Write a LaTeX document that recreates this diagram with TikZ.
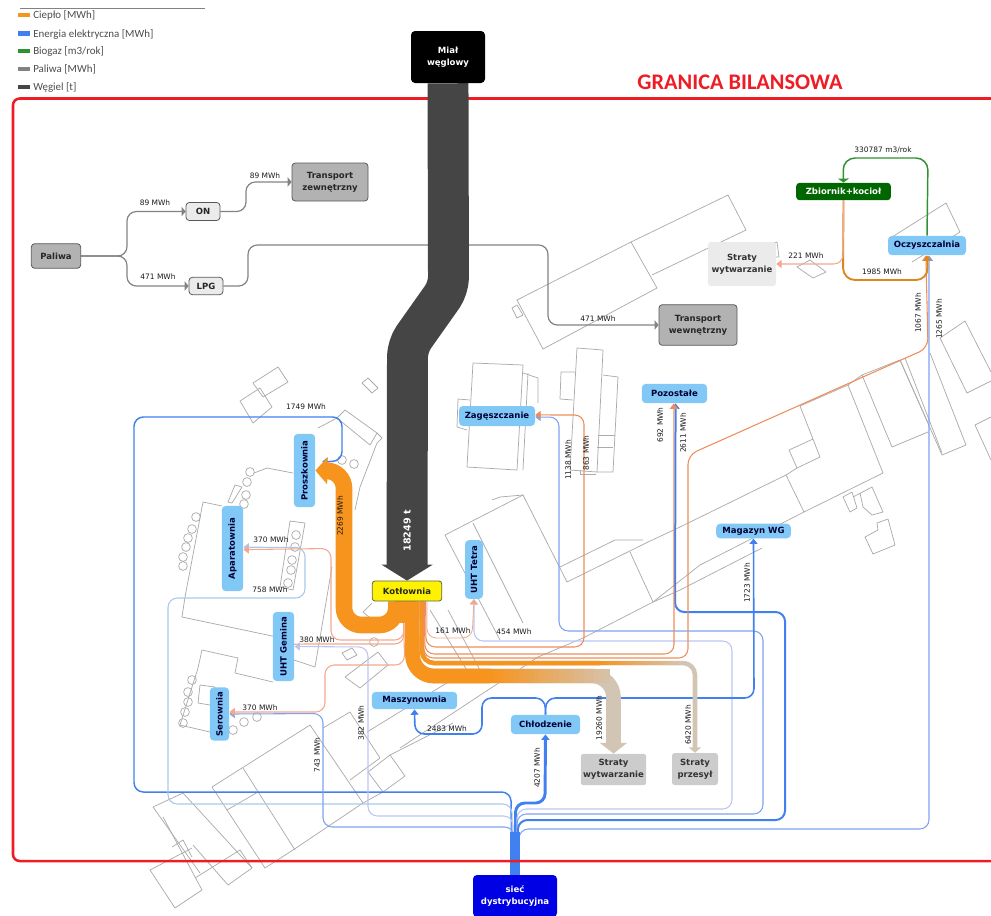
\documentclass[tikz,border=0pt]{standalone}
\usepackage{fontspec}
\setmainfont{DejaVu Sans}
\newfontfamily\calibrifont{Carlito}
\usetikzlibrary{arrows.meta}
\pgfdeclarelayer{background}
\pgfdeclarelayer{flows}
\pgfsetlayers{background,flows,main}
\definecolor{cieplo}{HTML}{F7941E}
\definecolor{cieplothin}{HTML}{EE8D5C}
\definecolor{cieplopale}{HTML}{F5A78E}
\definecolor{beige}{HTML}{D3C5B4}
\definecolor{prad}{HTML}{4080F0}
\definecolor{pradmid}{HTML}{7DA2EE}
\definecolor{pradpale}{HTML}{A9C8EA}
\definecolor{pradlilac}{HTML}{BCC6F2}
\definecolor{biogaz}{HTML}{2F9130}
\definecolor{paliwo}{HTML}{828282}
\definecolor{wegiel}{HTML}{454545}
\definecolor{oddzial}{HTML}{82C8F7}
\definecolor{ramka}{HTML}{EE1C25}
\definecolor{budynek}{HTML}{ABABAB}

\begin{document}
\begin{tikzpicture}[
    x=0.75pt, y=-0.75pt,
    every node/.style={font=\fontsize{6.4}{9}\selectfont\bfseries, inner sep=0pt, align=center},
    oddz/.style={rectangle, rounded corners=3pt, fill=oddzial, text=black!80!blue},
    paliwobox/.style={rectangle, rounded corners=2.5pt, draw=black!65, semithick, fill=black!30, text=black!85},
    paliwosmall/.style={paliwobox, fill=black!8},
    strata/.style={rectangle, rounded corners=2pt, fill=black!20, text=black!80},
    etyk/.style={font=\fontsize{5.6}{6}\selectfont, text=black!90},
    etykv/.style={etyk, rotate=90},
    legenda/.style={font=\calibrifont\fontsize{8.2}{10}\selectfont, text=black!70, anchor=west},
    kreska/.style={line width=3.2pt},
    bud/.style={draw=budynek, line width=0.55pt, line join=round},
    flow/.style={rounded corners=7pt, line join=round},
    cieplotip/.style={flow, -{Triangle[length=4pt, width=6pt]}},
    linia/.style={cieplotip, cieplothin, line width=0.8pt},
    liniapale/.style={cieplotip, cieplopale, line width=0.8pt},
    pradl/.style={cieplotip, prad, line width=1.2pt},
    paliwol/.style={flow, paliwo, line width=0.9pt, -{Triangle[length=3pt, width=7pt]}}
]
\useasboundingbox (0,0) rectangle (991,915);

% buildings
\begin{pgfonlayer}{background}
\draw[bud] (652,275) -- (746,230) -- (728,195) -- (631,242) -- (517,300) -- (543,349) -- (657,288) -- (631,242);
\draw[bud] (512,308) -- (517,305) -- (523,315) -- (517,318) -- cycle;
\draw[bud] (762,248) -- (777,242) -- (779,257) -- (768,257);
\draw[bud] (797,267) -- (810,260) -- (826,272) -- (813,278) -- cycle;
\draw[bud] (892,237) -- (946,203) -- (960,232) -- (912,262);
\draw[bud] (800,406) -- (848,385) -- (883,473) -- (804,512) -- (700,565) -- (653,602) -- (583,638) -- (538,657) -- (400,748);
\draw[bud] (800,406) -- (820,457) -- (797,468) -- (789,450) -- (813,439);
\draw[bud] (797,468) -- (786,475) -- (680,527) -- (648,542) -- (567,582) -- (523,495) -- (445,535) -- (500,640);
\draw[bud] (786,475) -- (804,512);
\draw[bud] (560,567) -- (615,540) -- (643,540);
\draw[bud] (630,552) -- (653,602);
\draw[bud] (473,523) -- (523,623);
\draw[bud] (492,500) -- (500,497) -- (523,495);
\draw[bud] (762,548) -- (680,590) -- (653,602);
\draw[bud] (848,385) -- (862,375) -- (892,447) -- (928,432);
\draw[bud] (862,375) -- (900,360) -- (928,423);
\draw[bud] (905,358) -- (942,453);
\draw[bud] (930,353) -- (966,445) -- (942,455) -- (900,360);
\draw[bud] (940,338) -- (965,321) -- (991,372);
\draw[bud] (940,338) -- (967,393) -- (991,381);
\draw[bud] (975,425) -- (991,417);
\draw[bud] (975,425) -- (991,460);
\draw[bud] (843,497) -- (852,492) -- (857,508) -- (850,512) -- cycle;
\draw[bud] (853,497) -- (872,487) -- (883,512) -- (872,515) -- (863,507) -- (860,493);
\draw[bud] (865,537) -- (878,530) -- (877,523) -- (888,519) -- (895,545) -- (873,554) -- cycle;
\draw[bud] (473,363) -- (523,365) -- (517,470) -- (467,467) -- cycle;
\draw[bud] (523,373) -- (538,378) -- (538,403);
\draw[bud] (528,373) -- (523,470);
\draw[bud] (470,400) -- (458,399) -- (457,427) -- (467,430);
\draw[bud] (577,348) -- (603,350) -- (597,472) -- (570,470) -- cycle;
\draw[bud] (575,372) -- (561,372) -- (560,399) -- (573,400);
\draw[bud] (603,375) -- (618,377) -- (613,472) -- (597,472);
\draw[bud] (598,435) -- (615,435);
\draw[bud] (597,447) -- (613,447);
\draw[bud] (580,470) -- (580,474) -- (596,474);
\draw[bud] (240,401) -- (260,388) -- (272,407) -- (253,423) -- cycle;
\draw[bud] (253,383) -- (278,367) -- (288,382) -- (263,397) -- cycle;
\draw[bud] (362,383) -- (368,378) -- (378,388) -- (372,393) -- cycle;
\draw[bud] (318,428) -- (337,418) -- (345,410) -- (377,433) -- (382,438) -- (377,443) -- (360,487) -- (355,510);
\draw[bud] (337,418) -- (370,445) -- (377,433);
\draw[bud] (254,473) -- (267,468) -- (293,473);
\draw[bud] (222,506) -- (203,502) -- (185,597) -- (182,617) -- (277,637);
\draw[bud] (235,485) -- (242,487) -- (232,503) -- (228,502) -- cycle;
\draw[bud] (290,521) -- (305,523) -- (293,590) -- (280,587) -- cycle;
\draw[bud] (332,567) -- (315,667) -- (294,660);
\draw[bud] (202,650) -- (238,658) -- (235,673) -- (273,682);
\draw[bud] (202,650) -- (198,668) -- (180,725) -- (210,732);
\draw[bud] (200,685) -- (215,687) -- (210,705) -- (198,703) -- cycle;
\foreach \cx/\cy in {196/517,192/529,188/538,186/547,183/557,183/566,250/472,247/482,246/495,244/504,296/535,295/547,292/560,291/570,288/583,342/460,354/464,192/680,188/692,188/702,185/712,183/723,233/730,244/722,257/717,374/642}
    \draw[bud] (\cx,\cy) circle (3.3pt);
\draw[bud] (345,677) -- (378,652) -- (388,665) -- (360,688) -- cycle;
\draw[bud] (342,653) -- (352,648) -- (357,655) -- (347,660) -- cycle;
\draw[bud] (372,603) -- (363,612) -- (375,622);
\draw[bud] (387,557) -- (410,573);
\draw[bud] (430,610) -- (468,672);
\draw[bud] (448,610) -- (480,670);
\draw[bud] (463,673) -- (367,732);
\draw[bud] (453,723) -- (390,755);
\draw[bud] (323,728) -- (350,712) -- (380,758) -- (350,780);
\draw[bud] (390,755) -- (405,776) -- (383,792) -- (363,803) -- (293,850) -- (265,868) -- (227,810) -- (212,787) -- (310,725) -- (363,803);
\draw[bud] (368,772) -- (383,792);
\draw[bud] (368,772) -- (390,755);
\draw[bud] (243,768) -- (295,850);
\draw[bud] (227,810) -- (258,792);
\draw[bud] (183,793) -- (252,868) -- (228,885) -- (193,845);
\draw[bud] (153,807) -- (200,873);
\draw[bud] (153,807) -- (183,793);
\draw[bud] (163,817) -- (202,890) -- (175,908) -- (150,870) -- (192,848);
\draw[bud] (195,878) -- (240,850) -- (252,868);
\draw[bud] (172,847) -- (183,840) -- (192,857);
\end{pgfonlayer}

% legend
\draw[paliwo, line width=0.7pt] (20,8) -- (205,8);
\coordinate (leg1) at (18,15);
\coordinate (leg2) at (18,33.5);
\coordinate (leg3) at (18,51);
\coordinate (leg4) at (18,69);
\coordinate (leg5) at (18,87);
\draw[kreska, cieplo] (leg1) -- ++(12,0);
\draw[kreska, prad] (leg2) -- ++(12,0);
\draw[kreska, biogaz] (leg3) -- ++(12,0);
\draw[kreska, paliwo] (leg4) -- ++(12,0);
\draw[kreska, wegiel] (leg5) -- ++(12,0);
\node[legenda] (legcieplo) at (33,15.5) {Ciepło [MWh]};
\node[legenda] (legprad) at (33,34) {Energia elektryczna [MWh]};
\node[legenda] (legbiogaz) at (33,51.5) {Biogaz [m3/rok]};
\node[legenda] (legpaliwa) at (33,69.5) {Paliwa [MWh]};
\node[legenda] (legwegiel) at (33,87.5) {Węgiel [t]};
\node[font=\calibrifont\fontsize{16.7}{18}\selectfont\bfseries, text=ramka] (granica) at (740,82) {GRANICA BILANSOWA};

% nodes
\node[rectangle, rounded corners=3pt, fill=black, text=white, minimum width=55.5pt, minimum height=39pt] (mial) at (448,57) {Miał\\węglowy};
\node[rectangle, rounded corners=2pt, draw=black!70!yellow, fill=yellow, semithick, text=black!85, minimum width=52pt, minimum height=15pt] (kotlownia) at (407,591) {Kotłownia};
\node[rectangle, rounded corners=3pt, fill=blue!90!black, text=white, minimum width=63pt, minimum height=31.5pt] (siec) at (515,896) {sieć\\dystrybucyjna};
\node[paliwobox, minimum width=37pt, minimum height=18.5pt] (paliwa) at (56,256) {Paliwa};
\node[paliwosmall, minimum width=25.5pt, minimum height=13.5pt] (on) at (203,211.5) {ON};
\node[paliwosmall, minimum width=25.5pt, minimum height=13pt] (lpg) at (206,286) {LPG};
\node[paliwobox, minimum width=57pt, minimum height=28.5pt] (tzew) at (330,182) {Transport\\zewnętrzny};
\node[paliwobox, minimum width=58.5pt, minimum height=30.5pt] (twew) at (698,325) {Transport\\wewnętrzny};
\node[strata, fill=black!8, minimum width=51pt, minimum height=33pt] (stratytop) at (742,264) {Straty\\wytwarzanie};
\node[rectangle, rounded corners=2.5pt, fill=green!40!black, text=white, minimum width=71pt, minimum height=13pt] (zbiornik) at (843.5,191.5) {Zbiornik+kocioł};
\node[oddz, minimum width=58.5pt, minimum height=14.5pt] (oczysz) at (927,245.5) {Oczyszczalnia};
\node[oddz, minimum width=49pt, minimum height=14.5pt] (pozostale) at (674.5,393.5) {Pozostałe};
\node[oddz, minimum width=57pt, minimum height=15pt] (zageszcz) at (497,416) {Zagęszczanie};
\node[oddz, minimum width=56pt, minimum height=11pt] (magazyn) at (753.5,531) {Magazyn WG};
\node[oddz, rotate=90, minimum width=44pt, minimum height=13.5pt] (tetra) at (474,569.5) {UHT Tetra};
\node[oddz, rotate=90, minimum width=55pt, minimum height=16pt] (proszk) at (304.5,470.5) {Proszkownia};
\node[oddz, rotate=90, minimum width=64pt, minimum height=16pt] (aparat) at (232.5,548.5) {Aparatownia};
\node[oddz, rotate=90, minimum width=52pt, minimum height=16pt] (gemina) at (283.5,646.5) {UHT Gemina};
\node[oddz, rotate=90, minimum width=40pt, minimum height=14.5pt] (serownia) at (219.5,714) {Serownia};
\node[oddz, minimum width=64pt, minimum height=13pt] (maszyn) at (414.5,700.5) {Maszynownia};
\node[oddz, minimum width=52pt, minimum height=14.5pt] (chlodz) at (545.5,724.5) {Chłodzenie};
\node[strata, minimum width=49pt, minimum height=23.5pt] (stratywyt) at (613.5,769.5) {Straty\\wytwarzanie};
\node[strata, minimum width=34.5pt, minimum height=24pt] (stratyprz) at (695,769) {Straty\\przesył};

\begin{pgfonlayer}{flows}
% electricity
\draw[pradl, line width=1.1pt] ([xshift=-2.5pt]siec.north) -- (511,792) -- (134,792) -- (134,417) -- (342,417) -- (342,461) -- ([shift={(5pt,6.5pt)}]proszk.south);
\draw[liniapale, pradpale] ([xshift=-2pt]siec.north) -- (512,804) -- (168,804) -- (168,598) -- (305,598) -- (305,547.5) -- ([yshift=1pt]aparat.south);
\draw[liniapale, pradlilac] ([xshift=-1.5pt]siec.north) -- (513,816) -- (368,816) -- (368,647) -- (gemina.south);
\draw[linia, pradmid] ([xshift=-1pt]siec.north) -- (514,827) -- (323,827) -- (323,713.5) -- (serownia.south);
\draw[pradl, line width=2.2pt] ([xshift=0.5pt]siec.north) -- (515.5,803) -- (545,803) -- (chlodz.south);
\draw[liniapale, pradlilac] ([xshift=1pt]siec.north) -- (517,809) -- (732,809) -- (732,641) -- (474,641) -- (tetra.west);
\draw[linia, pradmid] ([xshift=1.5pt]siec.north) -- (517,814) -- (763,814) -- (763,631) -- (559,631) -- (559,417) -- ([yshift=-0.8pt]zageszcz.east);
\draw[pradl, line width=1.5pt] ([xshift=2pt]siec.north) -- (518,820) -- (785,820) -- (785,612) -- (675,612) -- ([xshift=0.8pt]pozostale.south);
\draw[linia, pradmid] ([xshift=3pt]siec.north) -- (519,829) -- (929,829) -- ([xshift=1.5pt]oczysz.south);
\draw[pradl] (chlodz.north) -- (545,698) -- (482,698) -- (482,734) -- (415,734) -- (maszyn.south);
\draw[pradl] (chlodz.north) -- (546,698) -- (754,698) -- (magazyn.south);
\coordinate (stem) at (515,832);
\draw[prad, line width=7pt] (siec.north) -- (stem);
% boundary
\draw[ramka, line width=1.9pt, rounded corners=5pt] (13,98.5) rectangle (1010,861);
% heat
\draw[liniapale] ([xshift=-3pt]kotlownia.south) -- (404,640) -- (331,640) -- (331,548.5) -- ([yshift=-0.8pt]aparat.south);
\draw[liniapale] ([xshift=-3pt]kotlownia.south) -- (404,644) -- (296,644) -- ([yshift=1.8pt]gemina.south);
\draw[liniapale] ([xshift=-2.5pt]kotlownia.south) -- (404.5,665) -- (325,665) -- (325,712) -- ([yshift=1.5pt]serownia.south);
\draw[cieplo, line width=12.5pt, line join=round, rounded corners=13pt, -{Triangle[length=9pt, width=20pt]}] ([xshift=-8pt]kotlownia.south) -- (396.5,625) -- (344,625) -- (344,471) -- (proszk.south);
\draw[beige, line width=11pt, line join=round, rounded corners=16pt, -{Triangle[length=8pt, width=20pt]}] ([xshift=4pt]kotlownia.south) -- (412.5,676) -- (613.5,676) -- (stratywyt.north);
\draw[cieplo, line width=11pt, line join=round, rounded corners=16pt] ([xshift=4pt]kotlownia.south) -- (412.5,676) -- (490,676);
\foreach \i in {0,...,23}
    \draw[cieplo!\the\numexpr100-4*\i\relax!beige, line width=11pt] ({489+5*\i},676) -- ({495+5*\i},676);
\draw[beige, line width=3.4pt, rounded corners=9pt, -{Triangle[length=4pt, width=9pt]}] ([xshift=11pt]kotlownia.south) -- (422,663) -- (695,663) -- (stratyprz.north);
\draw[cieplo, line width=3.4pt, rounded corners=9pt] ([xshift=11pt]kotlownia.south) -- (422,663) -- (600,663);
\foreach \i in {0,...,15}
    \draw[cieplo!\the\numexpr100-6*\i\relax!beige, line width=3.4pt] ({598+5*\i},663) -- ({604+5*\i},663);
\draw[linia] ([xshift=12pt]kotlownia.south) -- (424,658) -- (688,658) -- (688,455) -- (928,348) -- ([xshift=-0.8pt]oczysz.south);
\draw[linia] ([xshift=13pt]kotlownia.south) -- (425,654) -- (674,654) -- ([xshift=-0.5pt]pozostale.south);
\draw[linia] ([xshift=14pt]kotlownia.south) -- (426,647) -- (584,647) -- (584,415) -- ([yshift=0.8pt]zageszcz.east);
\draw[liniapale, line width=0.6pt] ([xshift=15pt]kotlownia.south) -- (427,638) -- (472,638) -- (tetra.west);
\draw[cieplo, line width=16pt] ([xshift=-1pt]kotlownia.south) -- ++(0,-16pt);
% fuels and biogas
\draw[paliwol] (paliwa.east) -- (127,256) -- (127,211.5) -- (on.west);
\draw[paliwol] (paliwa.east) -- (127,256) -- (127,286) -- (lpg.west);
\draw[paliwol] (on.east) -- (246,211.5) -- (246,182) -- (tzew.west);
\draw[paliwol] (lpg.east) -- (248,286) -- (248,245) -- (548,245) -- (548,325) -- (twew.west);
\draw[biogaz, line width=1.1pt, rounded corners=9pt, -{Triangle[length=3pt, width=8pt]}] (oczysz.north) -- (928,158) -- (843,158) -- (zbiornik.north);
\draw[cieplotip, cieplo!90!black, line width=1.4pt, rounded corners=9pt] (zbiornik.south) -- (843,280) -- (928,280) -- (oczysz.south);
\draw[liniapale] (zbiornik.south) -- (843,264) -- (stratytop.east);
% coal
\draw[wegiel, line width=30.7pt, line join=round, rounded corners=8pt, -{Triangle[length=12pt, width=38pt]}] (mial.south) -- (448.5,288) -- (407.5,346) -- (kotlownia.north);
\end{pgfonlayer}

% labels
\node[etyk] (l89a) at (155,203) {89 MWh};
\node[etyk] (l89b) at (265,176) {89 MWh};
\node[etyk] (l471a) at (158,277) {471 MWh};
\node[etyk] (l471b) at (598,319) {471 MWh};
\node[etyk] (l330) at (883,150) {330787 m3/rok};
\node[etyk] (l221) at (806,256) {221 MWh};
\node[etyk] (l1985) at (882,272) {1985 MWh};
\node[etykv] (l1067) at (918,313) {1067 MWh};
\node[etykv] (l1265) at (939,319) {1265 MWh};
\node[etykv, font=\fontsize{7.2}{9}\selectfont\bfseries, text=white] (l18249) at (407,531) {18249 t};
\node[etykv] (l2269) at (340,516) {2269 MWh};
\node[etyk] (l1749) at (306,407) {1749 MWh};
\node[etyk] (l370a) at (271,540) {370 MWh};
\node[etyk] (l758) at (270,590) {758 MWh};
\node[etyk] (l380) at (317,640) {380 MWh};
\node[etyk] (l370b) at (260,708) {370 MWh};
\node[etykv] (l743) at (317,755) {743 MWh};
\node[etykv] (l382) at (361,723) {382 MWh};
\node[etyk] (l2483) at (447,729) {2483 MWh};
\node[etykv] (l4207) at (537,768) {4207 MWh};
\node[etykv] (l19260) at (599,718) {19260 MWh};
\node[etykv] (l6420) at (688,725) {6420 MWh};
\node[etykv] (l1723) at (747,583) {1723 MWh};
\node[etyk] (l161) at (453,631) {161 MWh};
\node[etyk] (l454) at (514,632) {454 MWh};
\node[etykv] (l1138) at (568,460) {1138 MWh};
\node[etykv] (l863) at (586,453) {863 MWh};
\node[etykv] (l692) at (660,425) {692 MWh};
\node[etykv] (l2611) at (683,433) {2611 MWh};

\end{tikzpicture}
\end{document}
